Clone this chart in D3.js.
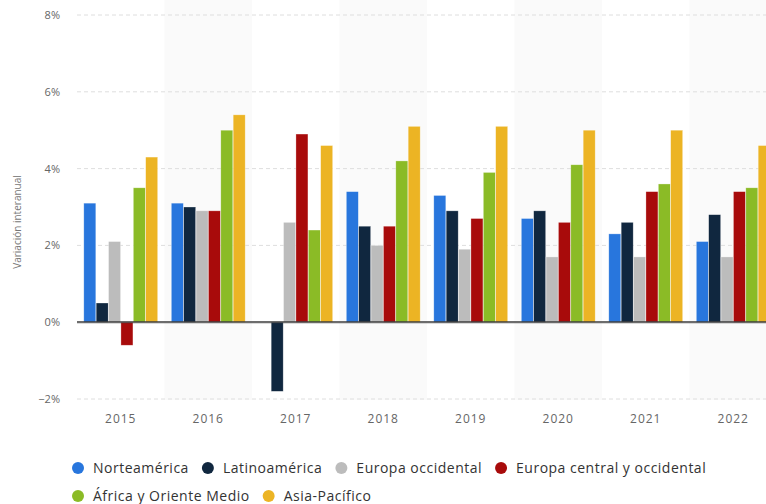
<!DOCTYPE html>
<html>
<head>
<meta charset="utf-8">
<script src="https://cdn.jsdelivr.net/npm/d3@7"></script>
<style>
  body { margin: 0; background: #fff; }
  text { font-family: "Open Sans", "Noto Sans", sans-serif; }
</style>
</head>
<body>
<div id="chart"></div>
<script>
// Data (percent, year-on-year change).
const years = ["2015", "2016", "2017", "2018", "2019", "2020", "2021", "2022"];
const regions = ["Norteamérica", "Latinoamérica", "Europa occidental", "Europa central y occidental", "África y Oriente Medio", "Asia-Pacífico"];
const colors = ["#2876dd", "#10273f", "#bcbcbc", "#a80b0b", "#8bbb26", "#ecb424"];
const norteamerica = [3.1, 3.1, 0, 3.4, 3.3, 2.7, 2.3, 2.1];
const latinoamerica = [0.5, 3.0, -1.8, 2.5, 2.9, 2.9, 2.6, 2.8];
const europaOccidental = [2.1, 2.9, 2.6, 2.0, 1.9, 1.7, 1.7, 1.7];
const europaCentral = [-0.6, 2.9, 4.9, 2.5, 2.7, 2.6, 3.4, 3.4];
const africaOriente = [3.5, 5.0, 2.4, 4.2, 3.9, 4.1, 3.6, 3.5];
const asiaPacifico = [4.3, 5.4, 4.6, 5.1, 5.1, 5.0, 5.0, 4.6];
const yTicks = [-2, 0, 2, 4, 6, 8];

const series = [norteamerica, latinoamerica, europaOccidental, europaCentral, africaOriente, asiaPacifico];

const width = 766, height = 504;
const margin = { top: 15, left: 77, bottom: 105 };

const svg = d3.select("#chart").append("svg")
  .attr("width", width)
  .attr("height", height)
  .attr("viewBox", [0, 0, width, height]);

// The reference is cropped on the right, so the plot runs past the svg edge.
const x = d3.scaleBand().domain(years).range([margin.left, 777]);
const xInner = d3.scaleBand().domain(d3.range(regions.length))
  .range([0, x.bandwidth()]).paddingInner(0.03).paddingOuter(0.55);
const y = d3.scaleLinear().domain([-2, 8]).range([399, margin.top]);

// Alternating background bands.
svg.append("g").selectAll("rect")
  .data(years.filter((d, i) => i % 2 === 1))
  .join("rect")
  .attr("x", d => x(d))
  .attr("y", 0)
  .attr("width", x.bandwidth())
  .attr("height", 400)
  .attr("fill", "#fafafa");

// Dashed grid lines.
svg.append("g").selectAll("line")
  .data(yTicks.filter(d => d !== 0))
  .join("line")
  .attr("x1", margin.left).attr("x2", width)
  .attr("y1", d => y(d)).attr("y2", d => y(d))
  .attr("stroke", "#dedede")
  .attr("stroke-dasharray", "4,3");

// Y tick labels.
const yAxis = svg.append("g")
  .attr("transform", `translate(${margin.left - 17},0)`)
  .call(d3.axisLeft(y).tickValues(yTicks).tickSize(0).tickFormat(d => (d < 0 ? "−" + Math.abs(d) : d) + "%"));
yAxis.select(".domain").remove();
yAxis.selectAll("text")
  .attr("x", 0)
  .attr("font-family", "'Open Sans', sans-serif")
  .attr("font-size", "11px")
  .attr("fill", "#666");

// Y axis title.
svg.append("text")
  .attr("transform", `translate(21, ${(y(8) + y(-2)) / 2 + 15}) rotate(-90)`)
  .attr("text-anchor", "middle")
  .attr("font-size", "10px")
  .attr("fill", "#777")
  .text("Variación interanual");

// Bars.
const groups = svg.append("g").selectAll("g")
  .data(years)
  .join("g")
  .attr("transform", d => `translate(${x(d)},0)`);

groups.selectAll("rect")
  .data((d, i) => series.map((s, k) => ({ k, v: s[i] })).filter(d => d.v !== 0))
  .join("rect")
  .attr("x", d => xInner(d.k))
  .attr("width", xInner.bandwidth())
  .attr("y", d => y(Math.max(0, d.v)))
  .attr("height", d => Math.abs(y(d.v) - y(0)))
  .attr("fill", d => colors[d.k])
  .attr("stroke", "rgba(255,255,255,0.5)")
  .attr("stroke-width", 0.6);

// Zero line.
svg.append("line")
  .attr("x1", margin.left).attr("x2", width)
  .attr("y1", y(0)).attr("y2", y(0))
  .attr("stroke", "rgba(60,60,60,0.75)")
  .attr("stroke-width", 2.2);

// X labels.
const xAxis = svg.append("g")
  .attr("transform", `translate(0,${y(-2) + 12})`)
  .call(d3.axisBottom(x).tickSize(0));
xAxis.select(".domain").remove();
xAxis.selectAll("text")
  .attr("font-family", "'Open Sans', sans-serif")
  .attr("font-size", "12px")
  .attr("letter-spacing", "1px")
  .attr("fill", "#666");

// Legend, two rows laid out by measured text width.
const rows = [[0, 1, 2, 3], [4, 5]];
rows.forEach((row, r) => {
  let cx = 78;
  const cy = 468 + r * 28;
  row.forEach(k => {
    const item = svg.append("g");
    item.append("circle")
      .attr("cx", cx).attr("cy", cy).attr("r", 6)
      .attr("fill", colors[k]);
    const t = item.append("text")
      .attr("x", cx + 15).attr("y", cy)
      .attr("dy", "0.35em")
      .attr("font-size", "14px")
      .attr("letter-spacing", "0.5px")
      .attr("fill", "#333")
      .text(regions[k]);
    cx += 15 + t.node().getComputedTextLength() + 19;
  });
});
</script>
</body>
</html>
